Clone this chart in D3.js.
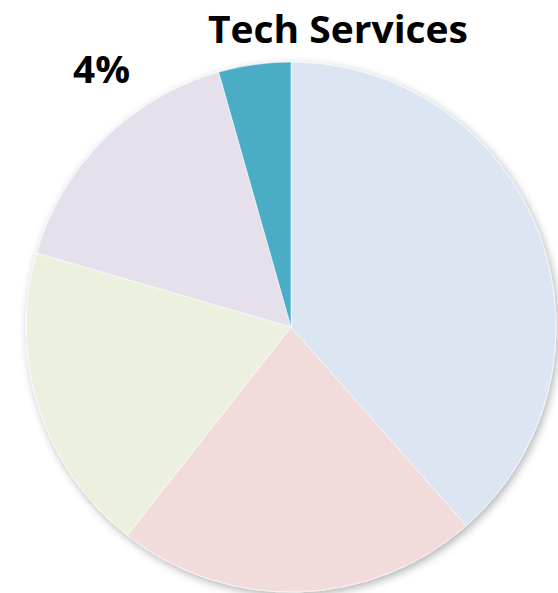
<!DOCTYPE html>
<html>
<head>
<meta charset="utf-8">
<script src="https://cdn.jsdelivr.net/npm/d3@7"></script>
<style>
  html, body { margin: 0; padding: 0; background: #fff; }
  svg { display: block; }
</style>
</head>
<body>
<svg id="chart" width="558" height="593"></svg>
<script>
// Data
const categories = ["A", "B", "C", "D", "E"];
const values = [38.5, 22.1, 18.9, 16.1, 4.4];
const colors = ["#DCE6F2", "#F2DCDB", "#EBF1DE", "#E5E0EC", "#4BACC6"];
const labels = ["", "", "", "", "4%"];
const title = "Tech Services";

const svg = d3.select("#chart");
const cx = 291, cy = 327, r = 265;

const defs = svg.append("defs");
const f = defs.append("filter").attr("id", "shadow")
  .attr("x", "-10%").attr("y", "-10%").attr("width", "120%").attr("height", "120%");
f.append("feDropShadow").attr("dx", 2).attr("dy", 3).attr("stdDeviation", 4)
  .attr("flood-color", "#000").attr("flood-opacity", 0.3);

const pie = d3.pie().sort(null).value(d => d)(values);
const arc = d3.arc().innerRadius(0).outerRadius(r);

const g = svg.append("g").attr("transform", `translate(${cx},${cy})`);
g.append("g").attr("filter", "url(#shadow)")
  .selectAll("path").data(pie).join("path")
  .attr("d", arc)
  .attr("fill", (d, i) => colors[i])
  .attr("stroke", "#fff").attr("stroke-width", 0.6);

svg.append("text")
  .attr("x", 338).attr("y", 43)
  .attr("text-anchor", "middle")
  .attr("font-family", "'Open Sans', sans-serif")
  .attr("font-weight", "bold")
  .attr("font-size", 38)
  .attr("textLength", 260).attr("lengthAdjust", "spacingAndGlyphs")
  .attr("fill", "#000")
  .text(title);

// label for small slice
svg.append("text")
  .attr("x", 101.5).attr("y", 83)
  .attr("text-anchor", "middle")
  .attr("font-family", "'Open Sans', sans-serif")
  .attr("font-weight", "bold")
  .attr("font-size", 38)
  .attr("textLength", 57).attr("lengthAdjust", "spacingAndGlyphs")
  .attr("fill", "#000")
  .text(labels[4]);
</script>
</body>
</html>
